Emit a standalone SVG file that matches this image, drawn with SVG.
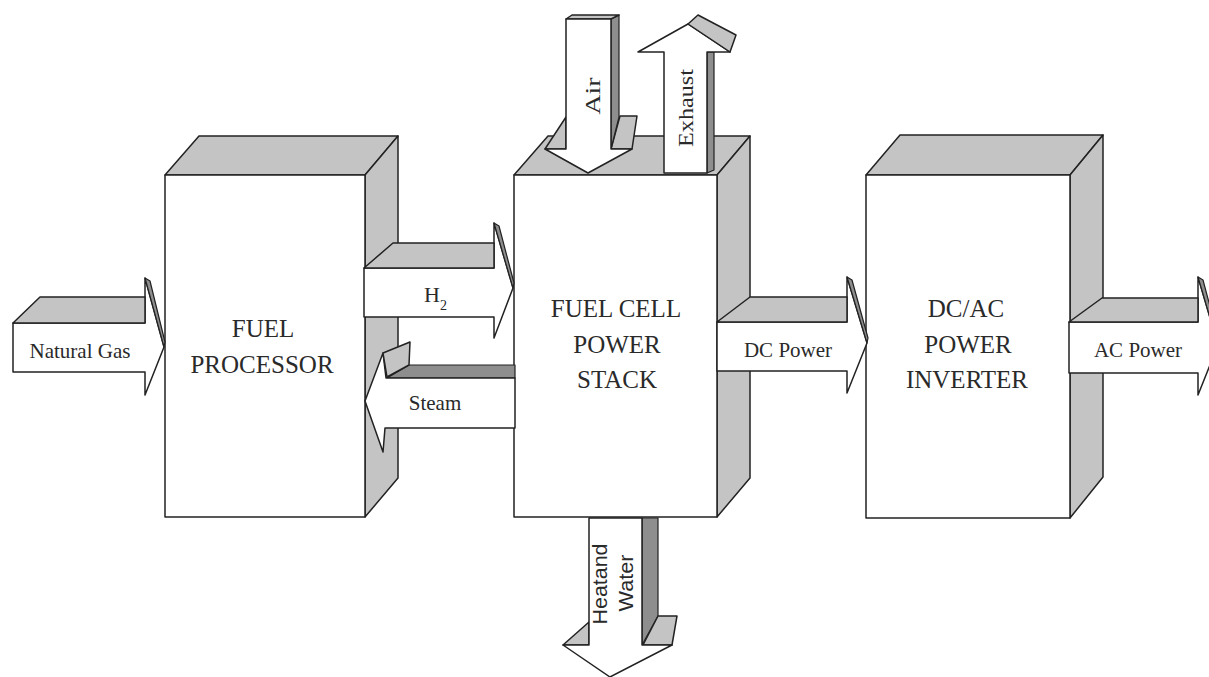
<svg xmlns="http://www.w3.org/2000/svg" width="1209" height="677" viewBox="0 0 1209 677">
<style>
.fr{fill:#fff;stroke:#222;stroke-width:1.5;stroke-linejoin:round}
.lt{fill:#c4c4c4;stroke:#222;stroke-width:1.5;stroke-linejoin:round}
.dk{fill:#8e8e8e;stroke:#222;stroke-width:1.2;stroke-linejoin:round}
.t{font-family:"Liberation Serif","Times New Roman",serif;fill:#2a2a2a}
.s{font-family:"Liberation Sans",Arial,sans-serif;fill:#2a2a2a}
.big{font-size:25px;text-anchor:middle}
.sm{font-size:21px;text-anchor:middle}
</style>
<rect width="1209" height="677" fill="#fff"/>
<g id="fuel-processor">
<polygon class="lt" points="165,175 199,136 398,136 365,175"/>
<polygon class="lt" points="365,175 398,136 398,478 365,517"/>
<rect class="fr" x="165" y="175" width="200" height="342"/>
<text class="t big" x="263" y="337">FUEL</text>
<text class="t big" x="262" y="373">PROCESSOR</text>
</g>
<g id="fuel-cell-stack">
<polygon class="lt" points="514,175 548,136 750,136 717,175"/>
<polygon class="lt" points="717,175 750,136 750,478 717,517"/>
<rect class="fr" x="514" y="175" width="203" height="342"/>
<text class="t big" x="616" y="317">FUEL CELL</text>
<text class="t big" x="617" y="353">POWER</text>
<text class="t big" x="617" y="388">STACK</text>
</g>
<g id="inverter">
<polygon class="lt" points="866,175 900,135 1103,135 1070,175"/>
<polygon class="lt" points="1070,175 1103,135 1103,477 1070,518"/>
<rect class="fr" x="866" y="175" width="204" height="343"/>
<text class="t big" x="966" y="317">DC/AC</text>
<text class="t big" x="968" y="353">POWER</text>
<text class="t big" x="967" y="388">INVERTER</text>
</g>
<g id="connectors">
<g id="natural-gas">
<polygon class="fr" points="13,323 145,323 145,278 164,347 145,395 145,372 13,372"/>
<polygon class="lt" points="13,323 40,297 145,297 145,323"/>
<polygon class="dk" points="145,278 150,281 165,342 164,347"/>
<text class="t sm" x="80" y="358">Natural Gas</text>
</g>
<g id="h2">
<polygon class="fr" points="364,268 494,268 494,223 513,288 494,338 494,317 364,317"/>
<polygon class="lt" points="364,268 393,243 494,243 494,268"/>
<polygon class="dk" points="494,223 499,226 514,283 513,288"/>
<text class="t" font-size="22" x="424" y="302">H<tspan font-size="14" dy="8">2</tspan></text>
</g>
<g id="steam">
<polygon class="dk" points="409,365 515,365 515,378 387,378"/>
<polygon class="fr" points="515,378 386,378 383,353 365,401 383,452 385,428 515,428"/>
<polygon class="lt" points="383,353 410,342 409,365 387,377"/>
<text class="t sm" x="435" y="410">Steam</text>
</g>
<g id="dc-power">
<polygon class="fr" points="717,322 847,322 847,277 867,343 847,393 847,371 717,371"/>
<polygon class="lt" points="717,322 750,297 847,297 847,322"/>
<polygon class="dk" points="847,277 852,280 868,338 867,343"/>
<text class="t sm" x="788" y="357">DC Power</text>
</g>
<g id="ac-power">
<polygon class="fr" points="1069,322 1198,322 1198,277 1218,345 1198,395 1198,373 1069,373"/>
<polygon class="lt" points="1069,322 1102,298 1198,298 1198,322"/>
<polygon class="dk" points="1198,277 1203,280 1219,340 1218,345"/>
<text class="t sm" x="1138" y="357">AC Power</text>
</g>
<g id="air">
<polygon class="lt" points="545,149 566,117 566,149"/>
<polygon class="lt" points="611,149 620,116 637,116 632,149"/>
<polygon class="dk" points="611,19 619,15 619,117 611,149"/>
<polygon class="lt" points="566,19 572,15 619,15 611,19"/>
<polygon class="fr" points="566,19 611,19 611,149 632,149 588,173 545,149 566,149"/>
<text class="t" font-size="22" text-anchor="middle" transform="translate(600,96) rotate(-90)" textLength="37" lengthAdjust="spacingAndGlyphs">Air</text>
</g>
<g id="exhaust">
<polygon class="dk" points="707,52 714,52 714,170 707,173"/>
<polygon class="fr" points="664,173 664,52 638,52 688,24 730,52 707,52 707,173"/>
<polygon class="lt" points="688,24 698,15 736,35 730,52"/>
<text class="t" font-size="22" text-anchor="middle" transform="translate(693,108) rotate(-90)" textLength="78" lengthAdjust="spacingAndGlyphs">Exhaust</text>
</g>
<g id="heat-water">
<polygon class="dk" points="642,518 658,518 658,616 642,645"/>
<polygon class="lt" points="643,645 658,616 677,616 672,645"/>
<polygon class="lt" points="563,645 589,622 589,645"/>
<polygon class="fr" points="589,518 642,518 642,645 672,645 610,677 563,645 589,645"/>
<text class="s" font-size="21" text-anchor="middle" transform="translate(607,584) rotate(-90)" textLength="81" lengthAdjust="spacingAndGlyphs">Heatand</text>
<text class="s" font-size="21" text-anchor="middle" transform="translate(633,583) rotate(-90)" textLength="57" lengthAdjust="spacingAndGlyphs">Water</text>
</g>
</g>
</svg>
